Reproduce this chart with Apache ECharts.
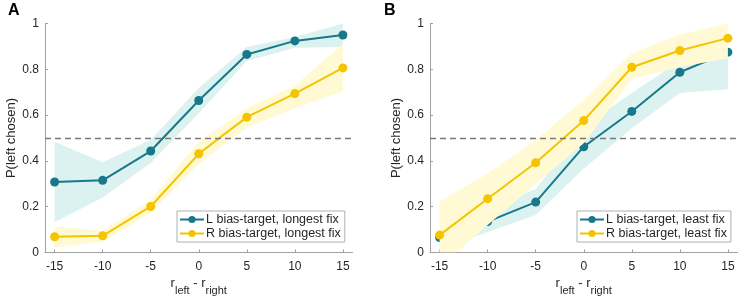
<!DOCTYPE html>
<html><head><meta charset="utf-8">
<script src="https://cdn.jsdelivr.net/npm/echarts@6/dist/echarts.min.js"></script>
<style>html,body{margin:0;padding:0;background:#fff}#c{width:742px;height:304px}</style>
</head><body><div id="c"></div>
<script>
var xVals = [-15, -10, -5, 0, 5, 10, 15];
var xTicks = [-15, -10, -5, 0, 5, 10, 15];
var yTicks = [0, 0.2, 0.4, 0.6, 0.8, 1];
var chanceLevel = 0.5;

var namesA = ['L bias-target, longest fix', 'R bias-target, longest fix'];
var namesB = ['L bias-target, least fix', 'R bias-target, least fix'];

var A_L    = [0.308, 0.315, 0.443, 0.664, 0.865, 0.924, 0.950];
var A_L_lo = [0.132, 0.240, 0.391, 0.608, 0.836, 0.894, 0.897];
var A_L_hi = [0.484, 0.394, 0.491, 0.718, 0.897, 0.941, 1.000];
var A_R    = [0.069, 0.073, 0.201, 0.431, 0.591, 0.694, 0.806];
var A_R_lo = [0.022, 0.048, 0.173, 0.386, 0.545, 0.630, 0.704];
var A_R_hi = [0.113, 0.095, 0.230, 0.484, 0.630, 0.729, 0.909];

var B_L    = [0.065, 0.135, 0.220, 0.462, 0.616, 0.787, 0.875];
var B_L_lo = [0.016, 0.090, 0.164, 0.367, 0.543, 0.697, 0.713];
var B_L_hi = [0.100, 0.200, 0.276, 0.550, 0.696, 0.836, 0.890];
var B_R    = [0.076, 0.235, 0.392, 0.576, 0.809, 0.882, 0.936];
var B_R_lo = [-0.066, 0.120, 0.300, 0.477, 0.758, 0.810, 0.848];
var B_R_hi = [0.223, 0.345, 0.491, 0.667, 0.870, 0.952, 1.000];

var TEAL = '#17788a', TEAL_L = '#dbf2f0';
var YEL = '#f5c400', YEL_L = '#fffad4';
var AX = '#a0a0a0', TXT = '#262626';
var FONT = 'Liberation Sans, Arial, Helvetica, sans-serif';

function pairs(ys) { return xVals.map(function (x, i) { return [x, ys[i]]; }); }

function band(idx, lo, hi, col, z) {
  return { type: 'custom', xAxisIndex: idx, yAxisIndex: idx, data: pairs(hi), clip: true,
    silent: true, z: z, animation: false,
    renderItem: function (params, api) {
      if (params.dataIndex !== 0) return null;
      var pts = [];
      for (var i = 0; i < xVals.length; i++) pts.push(api.coord([xVals[i], hi[i]]));
      for (var j = xVals.length - 1; j >= 0; j--) pts.push(api.coord([xVals[j], lo[j]]));
      var cs = params.coordSys;
      return { type: 'polygon', shape: { points: pts }, style: { fill: col, stroke: null },
        clipPath: { type: 'rect', shape: { x: cs.x, y: cs.y, width: cs.width, height: cs.height } } };
    } };
}
function line(idx, name, ys, col, z) {
  return { type: 'line', name: name, xAxisIndex: idx, yAxisIndex: idx, data: pairs(ys),
    symbol: 'circle', symbolSize: 9, itemStyle: { color: col }, lineStyle: { color: col, width: 2 },
    z: z, animation: false };
}
function dashed(idx) {
  return { type: 'line', xAxisIndex: idx, yAxisIndex: idx, data: [], z: 10, animation: false,
    markLine: { silent: true, symbol: ['none', 'none'], label: { show: false },
      lineStyle: { color: '#7a7a7a', type: [6, 4], width: 1.3 },
      data: [{ yAxis: chanceLevel }] } };
}
function xAx(idx) {
  return { type: 'value', gridIndex: idx, min: -16, max: 16,
    axisLine: { onZero: false, lineStyle: { color: AX, width: 1 } },
    axisTick: { inside: true, length: 3, lineStyle: { color: AX }, customValues: xTicks },
    axisLabel: { color: TXT, fontSize: 12, fontFamily: FONT, margin: 8, customValues: xTicks },
    splitLine: { show: false },
    name: '{r|r}{s|left}{r| - r}{s|right}', nameLocation: 'middle', nameGap: 23,
    nameTextStyle: { rich: {
      r: { fontSize: 13, fontFamily: FONT, color: TXT, padding: [0, 0, 6, 0], verticalAlign: 'bottom' },
      s: { fontSize: 11, fontFamily: FONT, color: TXT, verticalAlign: 'bottom' } } } };
}
function yAx(idx) {
  return { type: 'value', gridIndex: idx, min: 0, max: 1, interval: 0.2,
    axisLine: { show: true, onZero: false, lineStyle: { color: AX, width: 1 } },
    axisTick: { show: true, inside: true, length: 3, lineStyle: { color: AX } },
    axisLabel: { color: TXT, fontSize: 12, fontFamily: FONT, margin: 6,
      formatter: function (v) { return String(Math.round(v * 10) / 10); } },
    splitLine: { show: false },
    name: 'P(left chosen)', nameLocation: 'middle', nameGap: 24,
    nameTextStyle: { color: TXT, fontSize: 13, fontFamily: FONT } };
}
function legend(left, names) {
  return { left: left, top: 211, orient: 'vertical', data: names,
    backgroundColor: '#fff', borderColor: '#b0b0b0', borderWidth: 1, borderRadius: 0,
    padding: [2, 4, 2, 2], itemGap: 1, itemWidth: 24, itemHeight: 9,
    textStyle: { color: TXT, fontSize: 12.5, fontFamily: FONT, padding: [0, 0, 0, -3] }, selectedMode: false };
}

var series = [
  band(0, A_L_lo, A_L_hi, TEAL_L, 1), line(0, namesA[0], A_L, TEAL, 2),
  band(0, A_R_lo, A_R_hi, YEL_L, 3), line(0, namesA[1], A_R, YEL, 4), dashed(0),
  band(1, B_L_lo, B_L_hi, TEAL_L, 1), line(1, namesB[0], B_L, TEAL, 2),
  band(1, B_R_lo, B_R_hi, YEL_L, 3), line(1, namesB[1], B_R, YEL, 4), dashed(1)
];

var chart = echarts.init(document.getElementById('c'), null, { renderer: 'canvas' });
chart.setOption({
  backgroundColor: '#fff',
  animation: false,
  grid: [
    { left: 45, top: 23.5, width: 307.5, height: 229 },
    { left: 430, top: 23.5, width: 307.5, height: 229 }
  ],
  xAxis: [xAx(0), xAx(1)],
  yAxis: [yAx(0), yAx(1)],
  legend: [legend(177, namesA), legend(577, namesB)],
  graphic: [
    { type: 'text', left: 8, top: 3, style: { text: 'A', font: 'bold 16px ' + FONT, fill: '#000' } },
    { type: 'text', left: 384, top: 3, style: { text: 'B', font: 'bold 16px ' + FONT, fill: '#000' } }
  ],
  series: series
});
</script></body></html>
